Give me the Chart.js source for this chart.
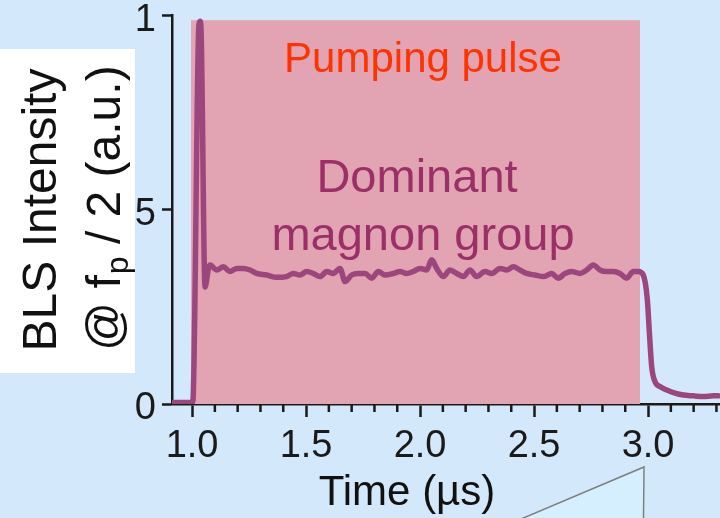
<!DOCTYPE html>
<html>
<head>
<meta charset="utf-8">
<title>BLS Intensity vs Time</title>
<script src="https://cdn.jsdelivr.net/npm/chart.js@4.4.0/dist/chart.umd.min.js"></script>
<style>
  html, body { margin: 0; padding: 0; background: #d4e8fb; }
  #wrap { position: relative; width: 720px; height: 518px; overflow: hidden; }
</style>
</head>
<body>
<div id="wrap"><canvas id="bls-chart" width="720" height="518"></canvas></div>
<script>
// Courbe BLS (temps en µs, intensité normalisée)
const timeValues = [
  0.912, 1.000, 1.004, 1.030, 1.035, 1.039, 1.057, 1.071, 1.079, 1.108,
  1.137, 1.166, 1.196, 1.225, 1.254, 1.283, 1.327, 1.371, 1.415, 1.444,
  1.473, 1.503, 1.532, 1.561, 1.591, 1.619, 1.649, 1.671, 1.700, 1.729,
  1.759, 1.788, 1.817, 1.846, 1.883, 1.912, 1.941, 1.970, 2.000, 2.029,
  2.051, 2.073, 2.102, 2.131, 2.161, 2.190, 2.219, 2.248, 2.285, 2.314,
  2.351, 2.380, 2.409, 2.438, 2.468, 2.504, 2.541, 2.577, 2.606, 2.636,
  2.665, 2.702, 2.731, 2.760, 2.789, 2.818, 2.848, 2.877, 2.906, 2.935,
  2.957, 2.979, 2.997, 3.006, 3.016, 3.031, 3.052, 3.082, 3.118, 3.155,
  3.198, 3.242, 3.287, 3.308
]
const intensityValues = [
  0.004, 0.004, 0.010, 0.975, 0.985, 0.970, 0.301, 0.345, 0.358, 0.345,
  0.353, 0.341, 0.349, 0.349, 0.345, 0.336, 0.332, 0.326, 0.328, 0.336,
  0.332, 0.341, 0.336, 0.328, 0.341, 0.336, 0.349, 0.315, 0.332, 0.336,
  0.336, 0.324, 0.341, 0.332, 0.336, 0.341, 0.336, 0.341, 0.349, 0.345,
  0.371, 0.349, 0.328, 0.345, 0.336, 0.328, 0.345, 0.328, 0.341, 0.336,
  0.349, 0.345, 0.353, 0.345, 0.336, 0.332, 0.328, 0.336, 0.324, 0.336,
  0.341, 0.336, 0.345, 0.358, 0.345, 0.341, 0.341, 0.336, 0.324, 0.341,
  0.341, 0.332, 0.268, 0.182, 0.096, 0.057, 0.045, 0.036, 0.028, 0.023,
  0.021, 0.019, 0.021, 0.021
]

// Impulsion de pompage (rectangle rose)
const pulseTimes = [0.995, 2.965]
const pulseLevels = [0.988, 0.988]

// Graduations
const xMajorValues = [1.0, 1.5, 2.0, 2.5, 3.0]
const xTickLabels = ['1.0', '1.5', '2.0', '2.5', '3.0']
const yTickValues = [0, 0.5, 1]
const yTickLabels = ['0', '.5', '1']

const FONT = '"Liberation Sans", Arial, Helvetica, sans-serif'
const AXIS_COLOR = '#1a1a1a'

function isMajor(value) {
  return xMajorValues.some(m => Math.abs(m - value) < 1e-6)
}

const curvePoints = timeValues.map((t, i) => ({ x: t, y: intensityValues[i] }))
const pulsePoints = pulseTimes.map((t, i) => ({ x: t, y: pulseLevels[i] }))

// petits dessins en plus : graduations mineures, textes, cadre blanc
const decorPlugin = {
  id: 'decor',
  afterDraw(chart) {
    const ctx = chart.ctx
    const xScale = chart.scales.x
    ctx.save()

    // graduations mineures de l'axe des temps
    ctx.strokeStyle = AXIS_COLOR
    ctx.lineWidth = 2.5
    xScale.ticks.forEach(t => {
      if (isMajor(t.value)) return
      const px = xScale.getPixelForValue(t.value)
      ctx.beginPath()
      ctx.moveTo(px, xScale.top)
      ctx.lineTo(px, xScale.top + 8)
      ctx.stroke()
    })

    // annotations dans le graphe
    ctx.textAlign = 'center'
    ctx.textBaseline = 'alphabetic'
    ctx.fillStyle = '#ff3300'
    ctx.font = '42px ' + FONT
    ctx.fillText('Pumping pulse', 423, 72)
    ctx.fillStyle = '#9b3068'
    ctx.font = '47px ' + FONT
    ctx.fillText('Dominant', 417, 192)
    ctx.fillText('magnon group', 423, 250)

    // titre de l'axe des x
    ctx.fillStyle = '#111'
    ctx.font = '42px ' + FONT
    ctx.fillText('Time (\u00b5s)', 407, 505)

    // triangle de renvoi en bas
    ctx.beginPath()
    ctx.moveTo(521, 519)
    ctx.lineTo(644, 467)
    ctx.lineTo(643.5, 519)
    ctx.closePath()
    ctx.fillStyle = '#d5efff'
    ctx.fill()
    ctx.strokeStyle = '#7f7f7f'
    ctx.lineWidth = 1.5
    ctx.stroke()

    // cadre blanc + titre de l'axe des y
    ctx.fillStyle = '#ffffff'
    ctx.fillRect(0, 49, 135, 324)
    ctx.rotate(-Math.PI / 2)
    ctx.fillStyle = '#111'
    ctx.textAlign = 'center'
    ctx.font = '48px ' + FONT
    ctx.fillText('BLS Intensity', -210, 56)

    ctx.textAlign = 'left'
    const partA = '@ f'
    const partB = 'p'
    const partC = '/ 2 (a.u.)'
    ctx.font = '48px ' + FONT
    const wA = ctx.measureText(partA).width
    const wC = ctx.measureText(partC).width
    const wSpace = ctx.measureText(' ').width
    ctx.font = '32px ' + FONT
    const wB = ctx.measureText(partB).width
    const x0 = -208 - (wA + wB + wSpace + wC) / 2
    ctx.font = '48px ' + FONT
    ctx.fillText(partA, x0, 120)
    ctx.font = '32px ' + FONT
    ctx.fillText(partB, x0 + wA + 1, 128)
    ctx.font = '48px ' + FONT
    ctx.fillText(partC, x0 + wA + wB + wSpace, 120)

    ctx.restore()
  }
}

const MyChart = new Chart(document.getElementById('bls-chart'), {
  type: 'line',
  data: {
    datasets: [
      {
        label: 'BLS intensity',
        data: curvePoints,
        borderColor: '#9b477d',
        borderWidth: 5.5,
        borderJoinStyle: 'round',
        borderCapStyle: 'round',
        pointRadius: 0,
        cubicInterpolationMode: 'monotone',
        fill: false,
        order: 1
      },
      {
        label: 'Pumping pulse',
        data: pulsePoints,
        backgroundColor: '#e2a3b2',
        borderWidth: 0,
        pointRadius: 0,
        fill: 'origin',
        order: 2
      }
    ]
  },
  options: {
    responsive: false,
    animation: false,
    layout: { padding: { top: 15.5, left: 0, right: 0, bottom: 0 } },
    plugins: {
      legend: { display: false },
      tooltip: { enabled: false }
    },
    scales: {
      x: {
        type: 'linear',
        min: 0.912,
        max: 3.3156,
        grid: {
          drawOnChartArea: false,
          drawTicks: true,
          tickLength: 13,
          tickWidth: 2.5,
          tickColor: ctx => isMajor(ctx.tick.value) ? AXIS_COLOR : 'rgba(0,0,0,0)'
        },
        border: { display: true, color: AXIS_COLOR, width: 2.5 },
        ticks: {
          stepSize: 0.1,
          includeBounds: false,
          autoSkip: false,
          maxRotation: 0,
          padding: 7,
          color: AXIS_COLOR,
          font: { family: FONT, size: 38 },
          callback: value => {
            const i = xMajorValues.findIndex(m => Math.abs(m - value) < 1e-6)
            return i >= 0 ? xTickLabels[i] : ''
          }
        },
        afterFit: scale => {
          scale.height = 518 - 404
          scale.paddingLeft = 0
          scale.paddingRight = 0
        }
      },
      y: {
        min: 0,
        max: 1,
        grid: {
          drawOnChartArea: false,
          tickLength: 10,
          tickWidth: 2.5,
          tickColor: AXIS_COLOR
        },
        border: { display: true, color: AXIS_COLOR, width: 2.5 },
        ticks: {
          stepSize: 0.5,
          padding: 6,
          labelOffset: 5,
          color: AXIS_COLOR,
          font: { family: FONT, size: 38 },
          callback: value => {
            const i = yTickValues.findIndex(v => Math.abs(v - value) < 1e-6)
            return i >= 0 ? yTickLabels[i] : ''
          }
        },
        afterFit: scale => {
          scale.width = 172
          scale.paddingTop = 0
          scale.paddingBottom = 0
        }
      }
    }
  },
  plugins: [decorPlugin]
})
</script>
</body>
</html>
